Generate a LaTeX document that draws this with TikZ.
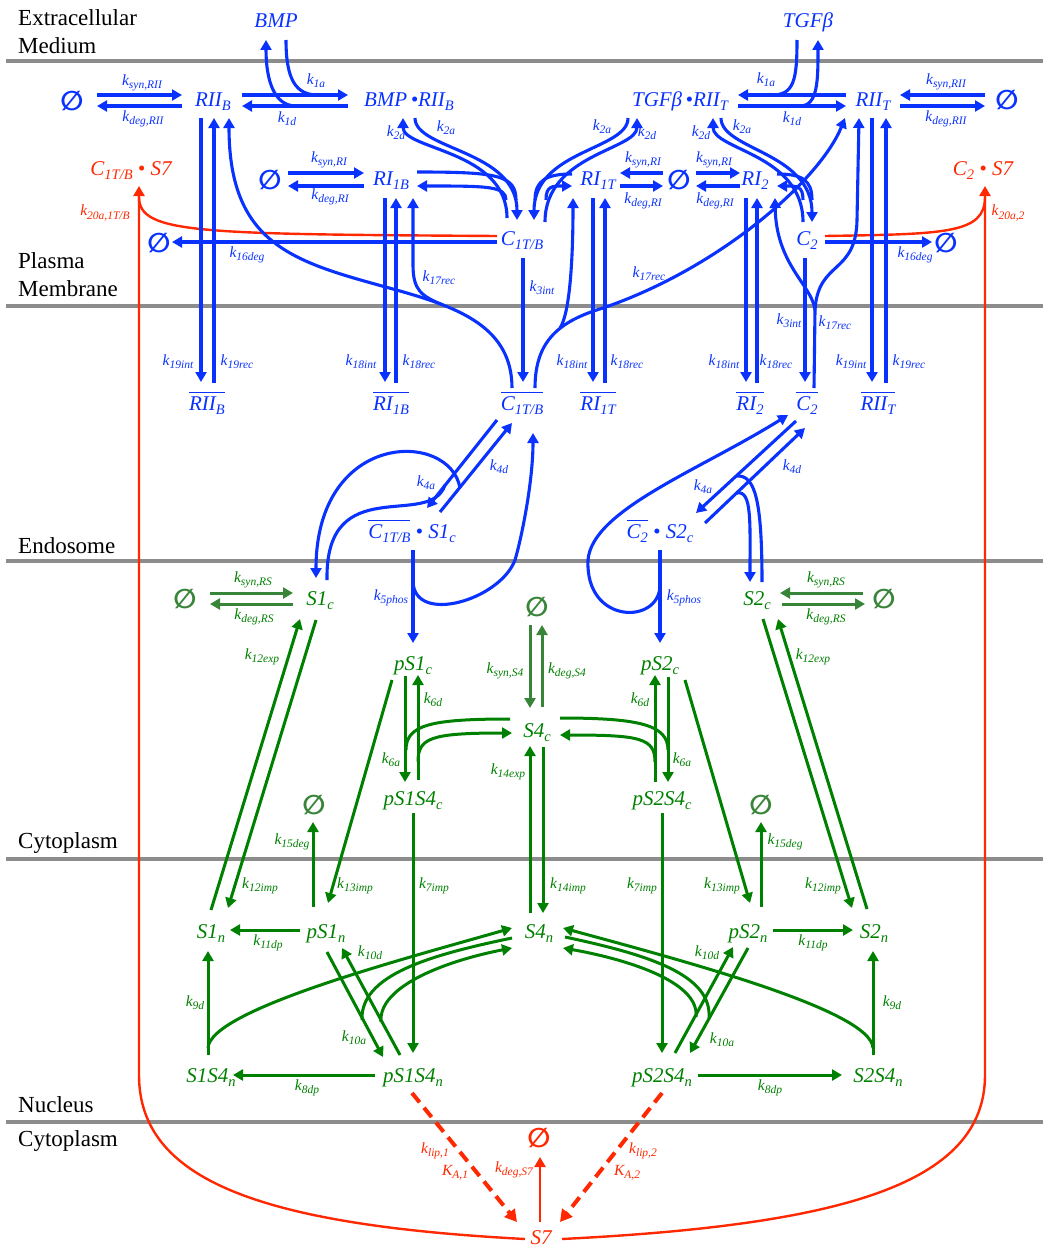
\documentclass[tikz,border=0pt]{standalone}
\usepackage{fontspec}
\setmainfont{Liberation Serif}
\newfontfamily\symf{DejaVu Sans}
\usetikzlibrary{arrows.meta, calc}
\definecolor{tblue}{RGB}{10,50,255}
\definecolor{tgreen}{RGB}{0,128,0}
\definecolor{tsage}{RGB}{56,132,56}
\definecolor{tred}{RGB}{255,40,0}
\definecolor{tgray}{RGB}{140,140,140}
\newcommand\spf{\fontsize{21}{24}\selectfont\itshape}
\newcommand\klf{\fontsize{15.5}{17}\selectfont\itshape}
\newcommand\regf{\fontsize{23}{26}\selectfont}
\newcommand\nulf{\symf\bfseries\fontsize{27}{29}\selectfont}
\newcommand\lo[1]{\raisebox{-0.45ex}{\fontsize{14.5}{15}\selectfont #1}}
\newcommand\ks[1]{\raisebox{-0.45ex}{\fontsize{11.5}{12}\selectfont #1}}
\newcommand\kk[1]{k\ks{#1}}
\newcommand\ovl[1]{\vbox{\hrule height 1.3pt\kern 3pt\hbox{#1}}}
\tikzset{
  species/.style={anchor=base, inner sep=0pt, font=\spf},
  spb/.style={species, text=tblue},
  spg/.style={species, text=tgreen},
  spr/.style={species, text=tred},
  nullset/.style={inner sep=0pt, font=\nulf},
  klab/.style={inner sep=0pt, font=\klf},
  klb/.style={klab, text=tblue},
  klg/.style={klab, text=tgreen},
  klr/.style={klab, text=tred},
  region/.style={anchor=base west, inner sep=0pt, font=\regf},
  memb/.style={line width=4pt, draw=tgray},
  lnb/.style={line width=3.1pt, draw=tblue},
  arb/.style={lnb, -{Triangle[length=10pt,width=11pt]}},
  lng/.style={line width=3pt, draw=tgreen},
  arg/.style={lng, -{Triangle[length=10pt,width=11pt]}},
  arm/.style={line width=3pt, draw=tsage, -{Triangle[length=10pt,width=11pt]}},
  lnr/.style={line width=2.4pt, draw=tred},
  arr/.style={lnr, -{Triangle[length=10pt,width=11pt]}},
  dashr/.style={line width=4pt, draw=tred, dash pattern=on 12pt off 7pt, -{Triangle[length=12pt,width=13pt]}},
}

\begin{document}
\begin{tikzpicture}[x=1pt, y=-1pt]
  \useasboundingbox (0,0) rectangle (1043,1247);

  % compartments
  \foreach \yy in {61,306,561,859,1122}
    \draw[memb] (6,\yy) -- (1043,\yy);
  \node[region] (ecm1) at (18,26) {Extracellular};
  \node[region] (ecm2) at (18,53) {Medium};
  \node[region] (pm1) at (18,268) {Plasma};
  \node[region] (pm2) at (18,296) {Membrane};
  \node[region] (endo) at (18,553) {Endosome};
  \node[region] (cyto1) at (18,848) {Cytoplasm};
  \node[region] (nuc) at (18,1112) {Nucleus};
  \node[region] (cyto2) at (18,1146) {Cytoplasm};

  % receptor species
  \node[spb] (bmp) at (276,28) {BMP};
  \node[spb] (tgf) at (808,28) {TGFβ};
  \node[nullset, text=tblue] (nullRIIB) at (72,101) {∅};
  \node[spb] (rIIB) at (213,106) {RII\lo{B}};
  \node[spb] (bmpRIIB) at (409,106) {BMP\,\textbullet RII\lo{B}};
  \node[spb] (tgfRIIT) at (680,106) {TGFβ\,\textbullet RII\lo{T}};
  \node[spb] (rIIT) at (873,106) {RII\lo{T}};
  \node[nullset, text=tblue] (nullRIIT) at (1007,100) {∅};
  \node[spr] (cBS7) at (131,175) {C\lo{1T/B} \textbullet{} S7};
  \node[nullset, text=tblue] (nullRIB) at (270,180) {∅};
  \node[spb] (rIB) at (391,185) {RI\lo{1B}};
  \node[spb] (rIT) at (598,185) {RI\lo{1T}};
  \node[nullset, text=tblue] (nullRI) at (679,180) {∅};
  \node[spb] (rI2) at (755,185) {RI\lo{2}};
  \node[spr] (c2S7) at (983,175) {C\lo{2} \textbullet{} S7};
  \node[nullset, text=tblue] (nullCB) at (159,243) {∅};
  \node[spb] (cB) at (522,245) {C\lo{1T/B}};
  \node[spb] (c2) at (807,245) {C\lo{2}};
  \node[nullset, text=tblue] (nullC2) at (946,243) {∅};
  \node[spb] (rIIBe) at (207,410) {\ovl{RII\lo{B}}};
  \node[spb] (rIBe) at (391,410) {\ovl{RI\lo{1B}}};
  \node[spb] (cBe) at (522,410) {\ovl{C\lo{1T/B}}};
  \node[spb] (rITe) at (598,410) {\ovl{RI\lo{1T}}};
  \node[spb] (rI2e) at (750,410) {\ovl{RI\lo{2}}};
  \node[spb] (c2e) at (807,410) {\ovl{C\lo{2}}};
  \node[spb] (rIITe) at (878,410) {\ovl{RII\lo{T}}};
  \node[spb] (cBS1) at (412,538) {\ovl{C\lo{1T/B}} \textbullet{} S1\lo{c}};
  \node[spb] (c2S2) at (660,538) {\ovl{C\lo{2}} \textbullet{} S2\lo{c}};

  % smad species
  \node[spg] (s1c) at (320,605) {S1\lo{c}};
  \node[nullset, text=tsage] (nullS1) at (185,599) {∅};
  \node[spg] (s2c) at (757,605) {S2\lo{c}};
  \node[nullset, text=tsage] (nullS2) at (884,599) {∅};
  \node[nullset, text=tsage] (nullS4) at (537,607) {∅};
  \node[spg] (pS1c) at (413,670) {pS1\lo{c}};
  \node[spg] (pS2c) at (660,670) {pS2\lo{c}};
  \node[spg] (s4c) at (537,737) {S4\lo{c}};
  \node[spg] (pS1S4c) at (413,805) {pS1S4\lo{c}};
  \node[spg] (pS2S4c) at (662,805) {pS2S4\lo{c}};
  \node[nullset, text=tsage] (nullPS1) at (314,805) {∅};
  \node[nullset, text=tsage] (nullPS2) at (761,805) {∅};
  \node[spg] (s1n) at (211,938) {S1\lo{n}};
  \node[spg] (pS1n) at (326,938) {pS1\lo{n}};
  \node[spg] (s4n) at (539,938) {S4\lo{n}};
  \node[spg] (pS2n) at (748,938) {pS2\lo{n}};
  \node[spg] (s2n) at (874,938) {S2\lo{n}};
  \node[spg] (s1S4n) at (211,1082) {S1S4\lo{n}};
  \node[spg] (pS1S4n) at (413,1082) {pS1S4\lo{n}};
  \node[spg] (pS2S4n) at (662,1082) {pS2S4\lo{n}};
  \node[spg] (s2S4n) at (878,1082) {S2S4\lo{n}};
  \node[nullset, text=tred] (nullS7) at (539,1138) {∅};
  \node[spr] (s7) at (541,1244) {S7};

  % ligand binding at the membrane
  \draw[arb] ($(nullRIIB)+(25,-6)$) -- ($(rIIB.base)+(-31,-11)$);
  \draw[arb] ($(rIIB.base)+(-31,0)$) -- ($(nullRIIB)+(25,5)$);
  \draw[arb] ($(rIIB.base)+(29,-11)$) -- ($(bmpRIIB.base)+(-61,-11)$);
  \draw[arb] ($(bmpRIIB.base)+(-61,0)$) -- ($(rIIB.base)+(29,0)$);
  \draw[lnb] ($(bmp.base)+(10,12)$) .. controls +(0,40) and +(-22,0) .. ($(bmpRIIB.base)+(-91,-11)$);
  \draw[arb] ($(bmpRIIB.base)+(-113,0)$) .. controls +(-22,0) and +(0,40) .. ($(bmp.base)+(-10,12)$);
  \draw[arb] ($(bmpRIIB.base)+(6,12)$) .. controls +(0,32) and +(0,-70) .. ($(cB.base)+(-5,-25)$);
  \draw[arb] ($(cB.base)+(-15,-27)$) .. controls +(0,-68) and +(0,32) .. ($(bmpRIIB.base)+(-6,12)$);
  \draw[lnb] ($(rIB.base)+(26,-13)$) .. controls +(80,0) and +(0,-25) .. ($(cB.base)+(-6,-45)$);
  \draw[arb] ($(cB.base)+(-16,-45)$) .. controls +(0,-14) and +(70,0) .. ($(rIB.base)+(26,1)$);
  \draw[arb] ($(nullRIB)+(18,-7)$) -- ($(rIB.base)+(-27,-12)$);
  \draw[arb] ($(rIB.base)+(-27,1)$) -- ($(nullRIB)+(18,6)$);
  \draw[arb] ($(cB.base)+(-25,-3)$) -- ($(nullCB)+(13,-1)$);

  \draw[arb] ($(rIIT.base)+(-27,-11)$) -- ($(tgfRIIT.base)+(58,-11)$);
  \draw[arb] ($(tgfRIIT.base)+(58,0)$) -- ($(rIIT.base)+(-27,0)$);
  \draw[lnb] ($(tgf.base)+(-11,12)$) .. controls +(0,40) and +(22,0) .. ($(tgfRIIT.base)+(92,-11)$);
  \draw[arb] ($(tgfRIIT.base)+(120,0)$) .. controls +(18,0) and +(0,40) .. ($(tgf.base)+(10,12)$);
  \draw[arb] ($(nullRIIT)+(-22,-5)$) -- ($(rIIT.base)+(27,-11)$);
  \draw[arb] ($(rIIT.base)+(27,0)$) -- ($(nullRIIT)+(-22,6)$);
  \draw[arb] ($(tgfRIIT.base)+(-52,12)$) .. controls +(0,32) and +(0,-70) .. ($(cB.base)+(12,-25)$);
  \draw[arb] ($(cB.base)+(23,-23)$) .. controls +(0,-68) and +(0,32) .. ($(tgfRIIT.base)+(-43,12)$);
  \draw[lnb] ($(rIT.base)+(-26,-11)$) .. controls +(-25,0) and +(0,-20) .. ($(cB.base)+(13,-45)$);
  \draw[arb] ($(cB.base)+(24,-45)$) .. controls +(0,-14) and +(-20,0) .. ($(rIT.base)+(-26,1)$);
  \draw[arb] ($(nullRI)+(-16,-7)$) -- ($(rIT.base)+(22,-12)$);
  \draw[arb] ($(rIT.base)+(22,1)$) -- ($(nullRI)+(-16,6)$);
  \draw[arb] ($(nullRI)+(17,-7)$) -- ($(rI2.base)+(-15,-12)$);
  \draw[arb] ($(rI2.base)+(-15,1)$) -- ($(nullRI)+(17,6)$);
  \draw[arb] ($(c2.base)+(-4,-23)$) .. controls +(0,-68) and +(0,32) .. ($(tgfRIIT.base)+(33,12)$);
  \draw[arb] ($(tgfRIIT.base)+(41,12)$) .. controls +(0,32) and +(0,-70) .. ($(c2.base)+(5,-23)$);
  \draw[lnb] ($(rI2.base)+(22,-11)$) .. controls +(25,0) and +(0,-20) .. ($(c2.base)+(5,-45)$);
  \draw[arb] ($(c2.base)+(-4,-45)$) .. controls +(0,-14) and +(20,0) .. ($(rI2.base)+(22,1)$);
  \draw[arb] ($(c2.base)+(18,-3)$) -- ($(nullC2)+(-14,-1)$);

  % S7 feedback on the receptors
  \draw[lnr] ($(cB.base)+(-25,-9)$) .. controls +(-297,-2) and +(0,37) .. ($(cBS7.base)+(8,22)$);
  \draw[arr] ($(s7.base)+(-16,-5)$) .. controls +(-265,-14) and +(0,105) .. ($(cBS7.base)+(8,900)$) -- ($(cBS7.base)+(8,11)$);
  \draw[lnr] ($(c2.base)+(18,-9)$) .. controls +(120,-2) and +(0,37) .. ($(c2S7.base)+(2,22)$);
  \draw[arr] ($(s7.base)+(21,-5)$) .. controls +(278,-14) and +(0,110) .. ($(c2S7.base)+(2,900)$) -- ($(c2S7.base)+(2,11)$);

  % internalisation and recycling
  \draw[arb] ($(rIIB.base)+(-12,12)$) -- ($(rIIBe.base)+(-6,-28)$);
  \draw[arb] ($(rIIBe.base)+(7,-27)$) -- ($(rIIB.base)+(1,12)$);
  \draw[arb] ($(rIB.base)+(-6,13)$) -- ($(rIBe.base)+(-6,-28)$);
  \draw[arb] ($(rIBe.base)+(5,-27)$) -- ($(rIB.base)+(5,13)$);
  \draw[arb] ($(cB.base)+(1,13)$) -- ($(cBe.base)+(1,-28)$);
  \draw[arb] ($(rIT.base)+(-5,13)$) -- ($(rITe.base)+(-5,-28)$);
  \draw[arb] ($(rITe.base)+(7,-27)$) -- ($(rIT.base)+(7,13)$);
  \draw[arb] ($(rI2.base)+(-9,13)$) -- ($(rI2e.base)+(-4,-28)$);
  \draw[arb] ($(rI2e.base)+(7,-27)$) -- ($(rI2.base)+(2,13)$);
  \draw[arb] ($(c2.base)+(-2,13)$) -- ($(c2e.base)+(-2,-28)$);
  \draw[arb] ($(rIIT.base)+(-1,12)$) -- ($(rIITe.base)+(-6,-28)$);
  \draw[arb] ($(rIITe.base)+(8,-27)$) -- ($(rIIT.base)+(13,12)$);
  \draw[arb] ($(cBe.base)+(-10,-22)$) .. controls +(0,-60) and +(60,17) .. ++(-112,-97)
    .. controls +(-100,-28) and +(0,132) .. ($(rIIB.base)+(16,12)$);
  \draw[arb] ($(cBe.base)+(-79,-105)$) .. controls +(-22,-9) and +(0,25) .. ($(rIB.base)+(22,80)$) -- ($(rIB.base)+(22,13)$);
  \draw[arb] ($(cBe.base)+(13,-22)$) .. controls +(0,-48) and +(-43,13) .. ++(68,-80)
    .. controls +(117,-40) and +(-25,62) .. ($(rIIT.base)+(-28,12)$);
  \draw[arb] ($(cBe.base)+(38,-82)$) .. controls +(10,-15) and +(0,60) .. ($(rIT.base)+(-25,13)$);
  \draw[arb] ($(c2e.base)+(7,-22)$) -- ++(1,-78) .. controls +(3,-50) and +(-1,55) .. ++(42,-90) -- ($(rIIT.base)+(-14,12)$);
  \draw[arb] ($(c2e.base)+(8,-100)$) .. controls +(-3,-25) and +(1,67) .. ($(rI2.base)+(20,13)$);

  % endosomal smad activation
  \draw[arb] ($(cBe.base)+(-25,10)$) -- ($(cBS1.base)+(15,-30)$);
  \draw[arb] ($(cBS1.base)+(28,-26)$) -- ($(cBe.base)+(-10,13)$);
  \draw[lnb] ($(s1c.base)+(7,-25)$) .. controls +(-2,-110) and +(-15,45) .. ($(cBS1.base)+(33,-53)$);
  \draw[arb] ($(cBS1.base)+(48,-50)$) .. controls +(-10,-58) and +(0,-148) .. ($(s1c.base)+(-4,-27)$);
  \draw[arb] ($(cBS1.base)+(1,12)$) -- ($(pS1c.base)+(0,-27)$);
  \draw[arb] ($(cBS1.base)+(1,44)$) .. controls +(2,43) and +(-15,40) .. ++(102,-22)
    .. controls +(6,-20) and +(0,50) .. ($(cBe.base)+(11,23)$);
  \draw[arb] ($(c2e.base)+(-11,11)$) -- ($(c2S2.base)+(36,-25)$);
  \draw[arb] ($(c2S2.base)+(45,-15)$) -- ($(c2e.base)+(-2,18)$);
  \draw[lnb] ($(s2c.base)+(5,-23)$) .. controls +(0,-82) and +(18,-1) .. ($(c2S2.base)+(77,-62)$);
  \draw[arb] ($(c2S2.base)+(77,-45)$) .. controls +(15,-3) and +(0,-60) .. ($(s2c.base)+(-7,-23)$);
  \draw[arb] ($(c2S2.base)+(0,12)$) -- ($(pS2c.base)+(0,-27)$);
  \draw[arb] ($(c2S2.base)+(0,47)$) .. controls +(0,40) and +(-3,65) .. ++(-72,-25)
    .. controls +(4,-50) and +(-88,55) .. ($(c2e.base)+(-19,5)$);

  % cytoplasmic smads
  \draw[arm] ($(nullS1)+(25,-6)$) -- ($(s1c.base)+(-27,-12)$);
  \draw[arm] ($(s1c.base)+(-27,-1)$) -- ($(nullS1)+(25,5)$);
  \draw[arm] ($(nullS2)+(-21,-6)$) -- ($(s2c.base)+(23,-12)$);
  \draw[arm] ($(s2c.base)+(25,-1)$) -- ($(nullS2)+(-19,5)$);
  \draw[arm] ($(nullS4)+(-7,18)$) -- ($(s4c.base)+(-7,-29)$);
  \draw[arm] ($(s4c.base)+(5,-30)$) -- ($(nullS4)+(5,18)$);
  \draw[arg] ($(s1n.base)+(0,-28)$) -- ($(s1c.base)+(-20,14)$);
  \draw[arg] ($(s1c.base)+(-4,15)$) -- ($(s1n.base)+(17,-30)$);
  \draw[arg] ($(pS1c.base)+(-21,10)$) -- ($(pS1n.base)+(2,-35)$);
  \draw[arg] ($(pS1n.base)+(-13,-31)$) -- ($(nullPS1)+(-1,17)$);
  \draw[arg] ($(pS1c.base)+(-8,6)$) -- ($(pS1S4c.base)+(-8,-23)$);
  \draw[arg] ($(pS1S4c.base)+(5,-25)$) -- ($(pS1c.base)+(5,5)$);
  \draw[lng] ($(s4c.base)+(-27,-18)$) .. controls +(-80,0) and +(0,-25) .. ($(pS1S4c.base)+(-7,-55)$);
  \draw[arg] ($(pS1S4c.base)+(5,-43)$) .. controls +(0,-24) and +(-82,0) .. ($(s4c.base)+(-25,-4)$);
  \draw[arg] ($(pS2S4c.base)+(-7,-23)$) -- ($(pS2c.base)+(-5,5)$);
  \draw[arg] ($(pS2c.base)+(8,7)$) -- ($(pS2S4c.base)+(6,-23)$);
  \draw[lng] ($(s4c.base)+(23,-19)$) .. controls +(80,0) and +(0,-25) .. ($(pS2S4c.base)+(6,-55)$);
  \draw[arg] ($(pS2S4c.base)+(-7,-43)$) .. controls +(0,-24) and +(80,0) .. ($(s4c.base)+(23,-2)$);
  \draw[arg] ($(s4n.base)+(-9,-25)$) -- ($(s4c.base)+(-7,9)$);
  \draw[arg] ($(s4c.base)+(6,10)$) -- ($(s4n.base)+(4,-25)$);
  \draw[arg] ($(pS1S4c.base)+(0,8)$) -- ($(pS1S4n.base)+(0,-29)$);
  \draw[arg] ($(pS2S4c.base)+(0,8)$) -- ($(pS2S4n.base)+(0,-29)$);
  \draw[arg] ($(pS2c.base)+(25,10)$) -- ($(pS2n.base)+(2,-35)$);
  \draw[arg] ($(pS2n.base)+(13,-31)$) -- ($(nullPS2)+(0,17)$);
  \draw[arg] ($(s2c.base)+(6,14)$) -- ($(s2n.base)+(-22,-30)$);
  \draw[arg] ($(s2n.base)+(-7,-29)$) -- ($(s2c.base)+(21,14)$);

  % nuclear smads
  \draw[arg] ($(pS1n.base)+(-26,-8)$) -- ($(s1n.base)+(19,-8)$);
  \draw[arg] ($(s1S4n.base)+(-3,-27)$) -- ($(s1n.base)+(-3,13)$);
  \draw[arg] ($(s1S4n.base)+(-3,-34)$) .. controls +(2,-38) and +(-112,32) .. ($(s4n.base)+(-27,-10)$);
  \draw[arg] ($(pS1n.base)+(1,14)$) -- ($(pS1S4n.base)+(-30,-25)$);
  \draw[arg] ($(pS1S4n.base)+(-13,-27)$) -- ($(pS1n.base)+(16,10)$);
  \draw[lng] ($(s4n.base)+(-27,0)$) .. controls +(-82,17) and +(-2,-45) .. ($(pS1S4n.base)+(-51,-62)$);
  \draw[arg] ($(pS1S4n.base)+(-32,-60)$) .. controls +(-3,-37) and +(-62,12) .. ($(s4n.base)+(-27,10)$);
  \draw[arg] ($(pS1S4n.base)+(-38,-7)$) -- ($(s1S4n.base)+(22,-7)$);
  \draw[arg] ($(pS2n.base)+(25,-8)$) -- ($(s2n.base)+(-21,-8)$);
  \draw[arg] ($(s2S4n.base)+(-5,-27)$) -- ($(s2n.base)+(-1,13)$);
  \draw[arg] ($(s2S4n.base)+(-5,-34)$) .. controls +(-2,-38) and +(117,32) .. ($(s4n.base)+(24,-10)$);
  \draw[arg] ($(pS2S4n.base)+(13,-29)$) -- ($(pS2n.base)+(-15,9)$);
  \draw[arg] ($(pS2n.base)+(0,10)$) -- ($(pS2S4n.base)+(28,-29)$);
  \draw[lng] ($(s4n.base)+(26,-1)$) .. controls +(85,18) and +(3,-43) .. ($(pS2S4n.base)+(47,-64)$);
  \draw[arg] ($(pS2S4n.base)+(34,-65)$) .. controls +(4,-37) and +(57,10) .. ($(s4n.base)+(24,10)$);
  \draw[arg] ($(pS2S4n.base)+(36,-7)$) -- ($(s2S4n.base)+(-36,-7)$);

  % S7 production and decay
  \draw[dashr] ($(pS1S4n.base)+(-1,11)$) -- ($(s7.base)+(-24,-22)$);
  \draw[dashr] ($(pS2S4n.base)+(0,11)$) -- ($(s7.base)+(19,-22)$);
  \draw[arr] ($(s7.base)+(-1,-22)$) -- ($(nullS7)+(1,19)$);

  % rate constants
  \node[klb] (kSynRIIB) at (142,83) {\kk{syn,RII}};
  \node[klb] (kDegRIIB) at (143,119) {\kk{deg,RII}};
  \node[klb] (kOneAB) at (316,81) {\kk{1a}};
  \node[klb] (kOneDB) at (287,119) {\kk{1d}};
  \node[klb] (kTwoDB) at (396,133) {\kk{2d}};
  \node[klb] (kTwoAB) at (446,128) {\kk{2a}};
  \node[klb] (kSynRIB) at (329,160) {\kk{syn,RI}};
  \node[klb] (kDegRIB) at (330,197) {\kk{deg,RI}};
  \node[klb] (kSixteenB) at (247,255) {\kk{16deg}};
  \node[klb] (kRecB) at (439,278) {\kk{17rec}};
  \node[klb] (kOneAT) at (766,80) {\kk{1a}};
  \node[klb] (kOneDT) at (792,119) {\kk{1d}};
  \node[klb] (kSynRIIT) at (946,82) {\kk{syn,RII}};
  \node[klb] (kDegRIIT) at (946,119) {\kk{deg,RII}};
  \node[klb] (kTwoAT) at (602,127) {\kk{2a}};
  \node[klb] (kTwoDT) at (647,133) {\kk{2d}};
  \node[klb] (kTwoDC) at (701,133) {\kk{2d}};
  \node[klb] (kTwoAC) at (742,127) {\kk{2a}};
  \node[klb] (kSynRIT) at (643,160) {\kk{syn,RI}};
  \node[klb] (kDegRIT) at (643,201) {\kk{deg,RI}};
  \node[klb] (kSynRI2) at (714,160) {\kk{syn,RI}};
  \node[klb] (kDegRI2) at (715,201) {\kk{deg,RI}};
  \node[klb] (kSixteenC) at (915,255) {\kk{16deg}};
  \node[klb] (kRecT) at (649,274) {\kk{17rec}};
  \node[klb] (kIntB) at (542,288) {\kk{3int}};
  \node[klb] (kIntC) at (789,321) {\kk{3int}};
  \node[klb] (kRecC) at (835,323) {\kk{17rec}};
  \node[klb] (kNineteenIB) at (178,362) {\kk{19int}};
  \node[klb] (kNineteenRB) at (237,362) {\kk{19rec}};
  \node[klb] (kEighteenIB) at (361,362) {\kk{18int}};
  \node[klb] (kEighteenRB) at (419,362) {\kk{18rec}};
  \node[klb] (kEighteenIT) at (572,362) {\kk{18int}};
  \node[klb] (kEighteenRT) at (627,362) {\kk{18rec}};
  \node[klb] (kEighteenIC) at (724,362) {\kk{18int}};
  \node[klb] (kEighteenRC) at (776,362) {\kk{18rec}};
  \node[klb] (kNineteenIT) at (851,362) {\kk{19int}};
  \node[klb] (kNineteenRT) at (909,362) {\kk{19rec}};
  \node[klb] (kFourAB) at (426,483) {\kk{4a}};
  \node[klb] (kFourDB) at (499,467) {\kk{4d}};
  \node[klb] (kFourAC) at (703,487) {\kk{4a}};
  \node[klb] (kFourDC) at (792,467) {\kk{4d}};
  \node[klb] (kPhosB) at (391,598) {\kk{5phos}};
  \node[klb] (kPhosC) at (684,598) {\kk{5phos}};
  \node[klr] (kFbB) at (105,213) {\kk{20a,1T/B}};
  \node[klr] (kFbC) at (1008,213) {\kk{20a,2}};
  \node[klr] (kLipOne) at (435,1151) {\kk{lip,1}};
  \node[klr] (kAOne) at (455,1173) {K\ks{A,1}};
  \node[klr] (kLipTwo) at (643,1151) {\kk{lip,2}};
  \node[klr] (kATwo) at (627,1173) {K\ks{A,2}};
  \node[klr] (kDegSeven) at (514,1170) {\kk{deg,S7}};
  \node[klg] (kSynRSa) at (253,580) {\kk{syn,RS}};
  \node[klg] (kDegRSa) at (254,617) {\kk{deg,RS}};
  \node[klg] (kSynRSb) at (826,580) {\kk{syn,RS}};
  \node[klg] (kDegRSb) at (826,617) {\kk{deg,RS}};
  \node[klg] (kExpA) at (262,657) {\kk{12exp}};
  \node[klg] (kExpB) at (813,657) {\kk{12exp}};
  \node[klg] (kSixDA) at (433,700) {\kk{6d}};
  \node[klg] (kSixAA) at (391,760) {\kk{6a}};
  \node[klg] (kSixDB) at (640,700) {\kk{6d}};
  \node[klg] (kSixAB) at (682,760) {\kk{6a}};
  \node[klg] (kSynSFour) at (505,671) {\kk{syn,S4}};
  \node[klg] (kDegSFour) at (567,671) {\kk{deg,S4}};
  \node[klg] (kExpFour) at (508,772) {\kk{14exp}};
  \node[klg] (kImpFour) at (568,886) {\kk{14imp}};
  \node[klg] (kFifteenA) at (292,842) {\kk{15deg}};
  \node[klg] (kFifteenB) at (785,842) {\kk{15deg}};
  \node[klg] (kImpA) at (260,886) {\kk{12imp}};
  \node[klg] (kPImpA) at (355,886) {\kk{13imp}};
  \node[klg] (kCImpA) at (434,886) {\kk{7imp}};
  \node[klg] (kCImpB) at (642,886) {\kk{7imp}};
  \node[klg] (kPImpB) at (722,886) {\kk{13imp}};
  \node[klg] (kImpB) at (823,886) {\kk{12imp}};
  \node[klg] (kDpA) at (268,943) {\kk{11dp}};
  \node[klg] (kDpB) at (813,943) {\kk{11dp}};
  \node[klg] (kTenDA) at (370,953) {\kk{10d}};
  \node[klg] (kTenDB) at (707,953) {\kk{10d}};
  \node[klg] (kNineA) at (195,1003) {\kk{9d}};
  \node[klg] (kNineB) at (892,1003) {\kk{9d}};
  \node[klg] (kTenAA) at (354,1038) {\kk{10a}};
  \node[klg] (kTenAB) at (722,1040) {\kk{10a}};
  \node[klg] (kEightA) at (307,1088) {\kk{8dp}};
  \node[klg] (kEightB) at (770,1088) {\kk{8dp}};
\end{tikzpicture}
\end{document}
